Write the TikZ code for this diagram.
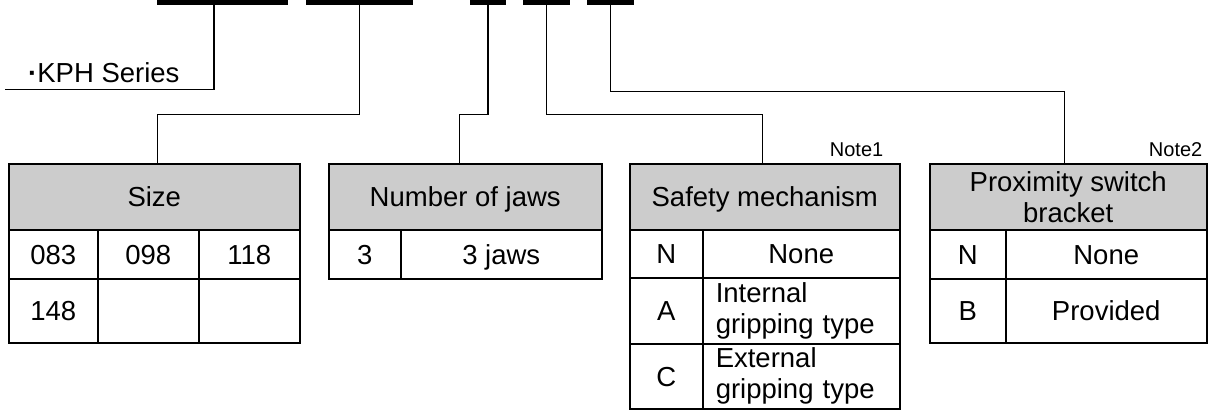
\documentclass[tikz,border=0pt]{standalone}
\usepackage{fontspec}
\setmainfont{Liberation Sans}
\begin{document}
\begin{tikzpicture}[x=1pt,y=-1pt,font=\fontsize{27.5}{31}\selectfont,
    bar/.style={fill=black,inner sep=0pt,minimum height=5pt,anchor=north},
    box/.style={draw,line width=1.5pt,inner sep=0pt,anchor=north west,align=center},
    cell/.style={box,text height=19.7pt,text depth=0pt},
    hd/.style={fill=black!20,minimum height=66pt},
    twoline/.style={box,align=left,inner xsep=13pt,text width=171pt,minimum width=197pt},
    note/.style={font=\fontsize{20}{22}\selectfont,inner sep=0pt,anchor=base east},
    lead/.style={line width=1.2pt}]
  \useasboundingbox (0,0) rectangle (1211,412);
  % code bars
  \node[bar,minimum width=131pt] (b1) at (222.5,0) {};
  \node[bar,minimum width=107pt] (b2) at (359.5,0) {};
  \node[bar,minimum width=36pt] (b3) at (488,0) {};
  \node[bar,minimum width=47pt] (b4) at (546.5,0) {};
  \node[bar,minimum width=47pt] (b5) at (610.5,0) {};
  \node[anchor=base west,inner sep=0pt] (kph) at (28,83) {\textbf{·}KPH Series};
  \coordinate (kphend) at (5,89.5);
  % size
  \node[cell,hd,minimum width=291pt] (sizehd) at (8,163) {Size};
  \node[cell,minimum width=89pt,minimum height=49pt] (s1) at (8,229) {083};
  \node[cell,minimum width=101pt,minimum height=49pt] (s2) at (97,229) {098};
  \node[cell,minimum width=101pt,minimum height=49pt] (s3) at (198,229) {118};
  \node[cell,minimum width=89pt,minimum height=64pt] (s4) at (8,278) {148};
  \node[cell,minimum width=101pt,minimum height=64pt] (s5) at (97,278) {};
  \node[cell,minimum width=101pt,minimum height=64pt] (s6) at (198,278) {};
  % jaws
  \node[cell,hd,minimum width=273pt] (jawshd) at (328,163) {Number of jaws};
  \node[cell,minimum width=72pt,minimum height=49pt] (j1) at (328,229) {3};
  \node[cell,minimum width=201pt,minimum height=49pt] (j2) at (400,229) {3 jaws};
  % safety
  \node[cell,hd,minimum width=270pt] (safehd) at (629,163) {Safety mechanism};
  \node[cell,minimum width=73pt,minimum height=48pt] (f1) at (629,229) {N};
  \node[cell,minimum width=197pt,minimum height=48pt] (f2) at (702,229) {None};
  \node[cell,minimum width=73pt,minimum height=66pt] (f3) at (629,277) {A};
  \node[twoline,minimum height=66pt] (f4) at (702,277) {Internal\\gripping type};
  \node[cell,minimum width=73pt,minimum height=65pt] (f5) at (629,343) {C};
  \node[twoline,minimum height=65pt] (f6) at (702,343) {External\\gripping type};
  % proximity
  \node[box,hd,minimum width=277pt] (proxhd) at (929,163) {Proximity switch\\bracket};
  \node[cell,minimum width=76pt,minimum height=49pt] (p1) at (929,229) {N};
  \node[cell,minimum width=201pt,minimum height=49pt] (p2) at (1005,229) {None};
  \node[cell,minimum width=76pt,minimum height=64pt] (p3) at (929,278) {B};
  \node[cell,minimum width=201pt,minimum height=64pt] (p4) at (1005,278) {Provided};
  \node[note] (note1) at ([xshift=-17pt,yshift=6pt]safehd.north east) {Note1};
  \node[note] (note2) at ([xshift=-5pt,yshift=6pt]proxhd.north east) {Note2};
  % leaders
  \draw[lead] ([xshift=-8.5pt]b1.south) |- (kphend);
  \draw[lead] (b2.south) -- ++(0,109) -| ([xshift=3.5pt]sizehd.north);
  \draw[lead] (b3.south) -- ++(0,109) -| ([xshift=-5.5pt]jawshd.north);
  \draw[lead] (b4.south) -- ++(0,109) -| ([xshift=-2pt]safehd.north);
  \draw[lead] (b5.south) -- ++(0,86) -| ([xshift=-3.5pt]proxhd.north);
\end{tikzpicture}
\end{document}
